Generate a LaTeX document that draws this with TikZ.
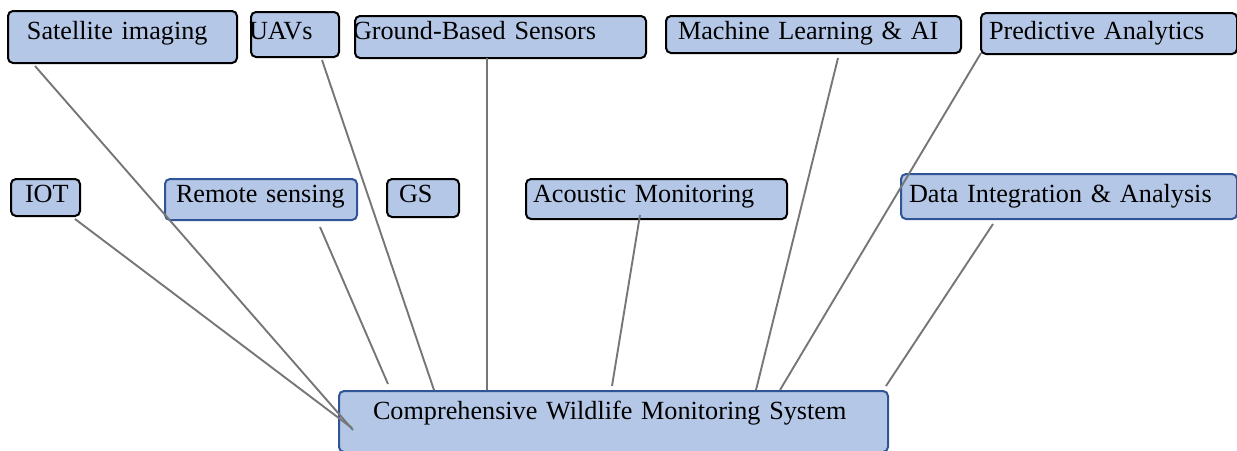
\documentclass[tikz,border=0pt]{standalone}
\usepackage{fontspec}
\setmainfont{Liberation Serif}
\definecolor{boxfill}{HTML}{B4C7E7}
\definecolor{boxblue}{HTML}{2F5597}
\definecolor{linkgray}{HTML}{767676}
\begin{document}
\begin{tikzpicture}[
    x=1pt, y=-1pt,
    box/.style={draw=black, fill=boxfill, line width=2pt, rounded corners=5pt, anchor=north west, inner ysep=0pt, align=left, font=\fontsize{26.2}{30}\selectfont},
    bluebox/.style={box, draw=boxblue},
    link/.style={draw=linkgray, line width=1.9pt}
    ]
    \useasboundingbox (0,0) rectangle (1237,450);
    % linha de cima
    \node[box, inner xsep=19pt, text width=191pt, text height=28pt, text depth=24pt] (sat) at (7,10) {Satellite imaging};
    \node[box, inner xsep=-2pt, text width=92pt, text height=27pt, text depth=18pt] (uav) at (250,11) {UAVs};
    \node[box, inner xsep=-2pt, text width=295pt, text height=23pt, text depth=19pt] (gbs) at (354,15) {Ground-Based Sensors};
    \node[box, inner xsep=12pt, text width=271pt, text height=23pt, text depth=14pt] (mla) at (665,15) {Machine Learning \& AI};
    \node[box, inner xsep=8pt, text width=240pt, text height=26pt, text depth=15pt] (pred) at (980,12) {Predictive Analytics};
    % linha do meio
    \node[box, inner xsep=14pt, text width=41pt, text height=23pt, text depth=14pt] (iot) at (10,178) {IOT};
    \node[bluebox, inner xsep=11pt, text width=170pt, text height=23pt, text depth=18pt] (rem) at (164,178) {Remote sensing};
    \node[box, inner xsep=12pt, text width=48pt, text height=23pt, text depth=15pt] (gs) at (386,178) {GS};
    \node[box, inner xsep=7pt, text width=247pt, text height=23pt, text depth=17pt] (aco) at (525,178) {Acoustic Monitoring};
    \node[bluebox, inner xsep=8pt, text width=320pt, text height=28pt, text depth=17pt] (dia) at (900,173) {Data Integration \& Analysis};
    % sistema
    \node[bluebox, inner xsep=34pt, text width=481pt, text height=28pt, text depth=33pt] (cws) at (338,390) {Comprehensive Wildlife Monitoring System};

    \coordinate (satFrom) at (35,66);    \coordinate (satTo) at (353,430);
    \coordinate (uavFrom) at (322,60);   \coordinate (uavTo) at (434,390);
    \coordinate (gbsFrom) at (487,58);   \coordinate (gbsTo) at (487,390);
    \coordinate (mlaFrom) at (838,58);   \coordinate (mlaTo) at (756,390);
    \coordinate (predFrom) at (981,53);  \coordinate (predTo) at (780,390);
    \coordinate (iotFrom) at (75,219);   \coordinate (iotTo) at (352,428);
    \coordinate (remFrom) at (320,227);  \coordinate (remTo) at (388,384);
    \coordinate (acoFrom) at (640,215);  \coordinate (acoTo) at (612,386);
    \coordinate (diaFrom) at (993,224);  \coordinate (diaTo) at (886,386);

    \draw[link] (satFrom) -- (satTo);
    \draw[link] (uavFrom) -- (uavTo);
    \draw[link] (gbsFrom) -- (gbsTo);
    \draw[link] (mlaFrom) -- (mlaTo);
    \draw[link] (predFrom) -- (predTo);
    \draw[link] (iotFrom) -- (iotTo);
    \draw[link] (remFrom) -- (remTo);
    \draw[link] (acoFrom) -- (acoTo);
    \draw[link] (diaFrom) -- (diaTo);
\end{tikzpicture}
\end{document}
